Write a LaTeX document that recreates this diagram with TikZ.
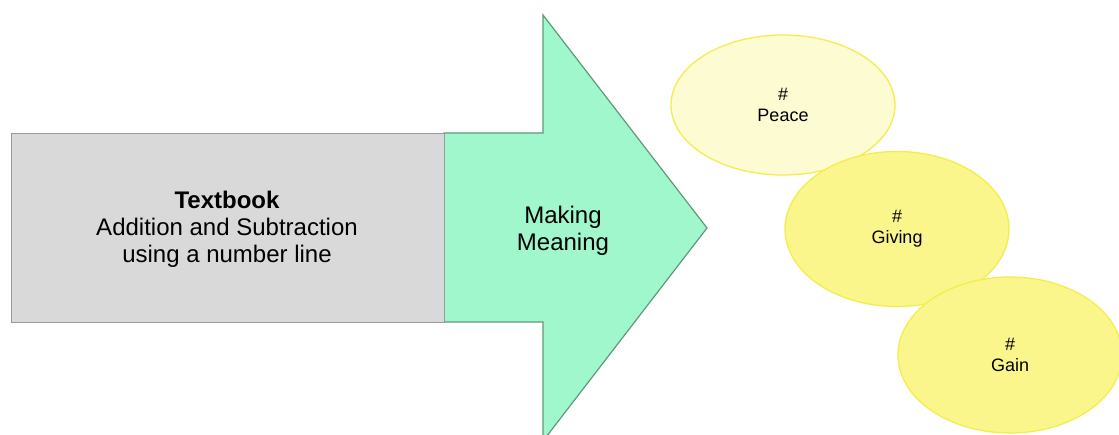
\documentclass[tikz,border=0pt]{standalone}
\usepackage{fontspec}
\setmainfont{Liberation Sans}
\usetikzlibrary{shapes.geometric}
\definecolor{boxgray}{HTML}{D9D9D9}
\definecolor{boxedge}{HTML}{999999}
\definecolor{arrowfill}{HTML}{A0F7CC}
\definecolor{arrowedge}{HTML}{5E9A7A}
\definecolor{palefill}{HTML}{FCFBD2}
\definecolor{yelfill}{HTML}{FAF68C}
\definecolor{yeledge}{HTML}{F2EE4E}
\tikzset{
  bubble/.style={ellipse, draw=yeledge, line width=1.3pt, minimum width=224pt, align=center, font=\fontsize{18}{21}\selectfont, inner sep=0pt},
  bigtext/.style={align=center, font=\fontsize{24}{27}\selectfont}
}
\begin{document}
\begin{tikzpicture}[x=1pt,y=-1pt]
\useasboundingbox (0,0) rectangle (1119,435);
\fill[white] (0,0) rectangle (1119,435);
\begin{scope}
\clip (0,0) rectangle (1119,435);
\draw[fill=arrowfill, draw=arrowedge, line width=1.2pt] (444,133) -- (543,133) -- (543,15) -- (707,228) -- (543,441) -- (543,322) -- (444,322) -- cycle;
\end{scope}
\node[draw=boxedge, fill=boxgray, line width=1.2pt, minimum width=433pt, minimum height=189pt, anchor=north west, inner sep=0pt] (textbook) at (11,133) {};
\node[bigtext] (tbtext) at (227,229) {\textbf{Textbook}\\Addition and Subtraction\\using a number line};
\node[bigtext] (making) at (563,231) {Making\\Meaning};
\node[bubble, fill=palefill, minimum height=140pt] (peace) at (783,105) {\#\\Peace};
\node[bubble, fill=yelfill, minimum height=155pt] (giving) at (897,229) {\#\\Giving};
\node[bubble, fill=yelfill, minimum height=156pt] (gain) at (1010,355) {\#\\Gain};
\end{tikzpicture}
\end{document}
